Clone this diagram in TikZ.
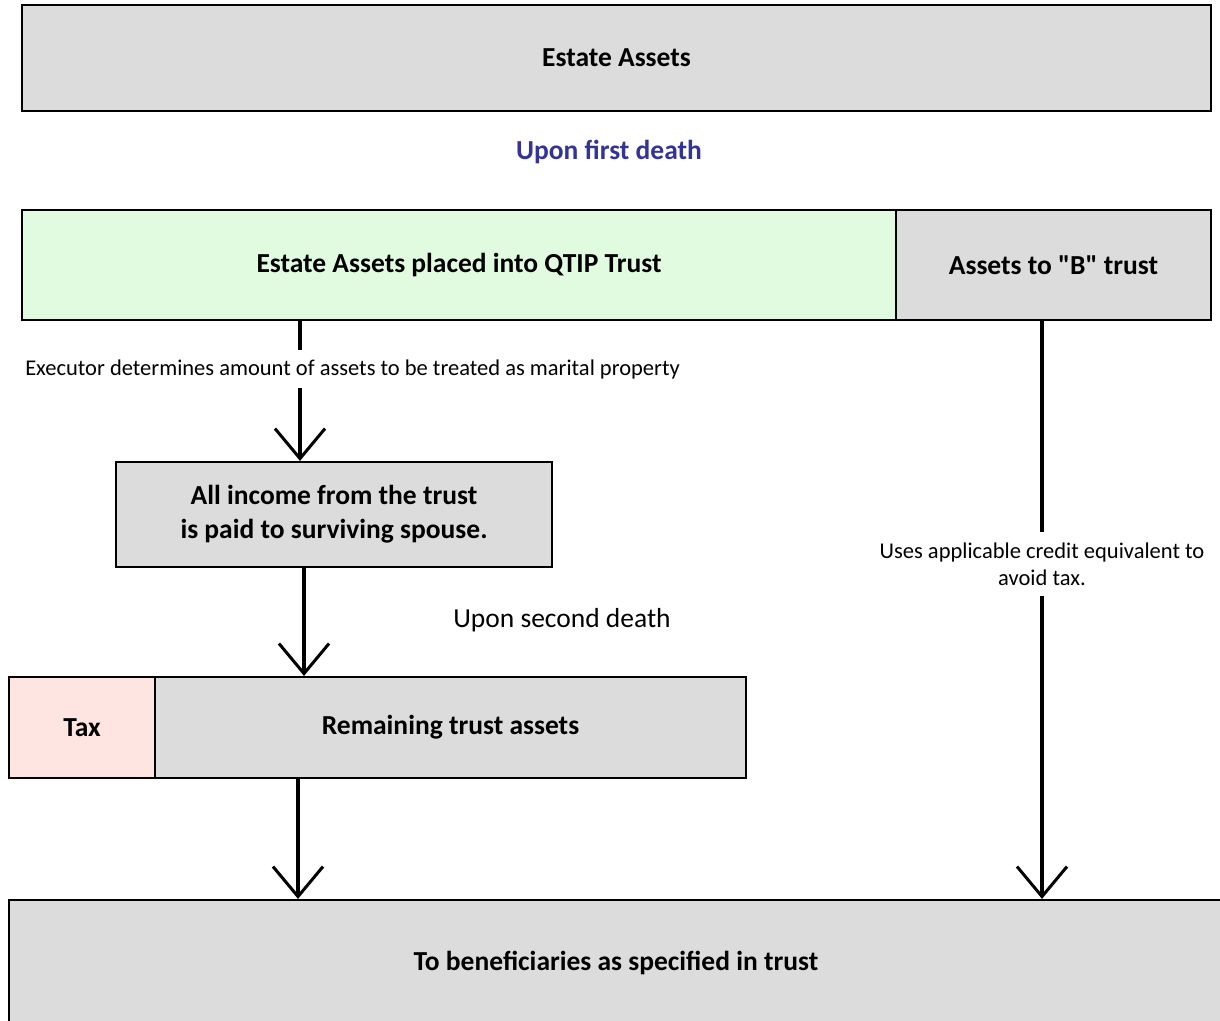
\documentclass[tikz,border=0pt]{standalone}
\usepackage{fontspec}
\setmainfont{Carlito}[Ligatures=TeXOff]
\usetikzlibrary{arrows.meta}
\definecolor{boxgray}{HTML}{DCDCDC}
\definecolor{qtipgreen}{HTML}{E1FBE1}
\definecolor{taxpink}{HTML}{FFE5E1}
\definecolor{headblue}{HTML}{333399}
\begin{document}
\begin{tikzpicture}[x=1pt,y=-1pt,
  box/.style={draw=black, line width=2.2pt, fill=boxgray, inner sep=0pt,
    font=\bfseries\fontsize{27.5}{34}\selectfont, align=center},
  flow/.style={line width=4pt, -{Straight Barb[length=30pt,width=50pt,line width=3pt]}},
  plainline/.style={line width=4pt},
  note/.style={font=\fontsize{22.5}{27}\selectfont, align=center, inner sep=0pt}]
\useasboundingbox (0,0) rectangle (1220,1020);
\clip (0,0) rectangle (1220,1020);

% boxes
\node[box, minimum width=1189pt, minimum height=106pt] (estate) at (616.5,58) {Estate Assets};
\node[font=\bfseries\fontsize{27.5}{32}\selectfont, text=headblue] (first) at (609,152) {Upon first death};
\node[box, fill=qtipgreen, minimum width=874pt, minimum height=110pt] (qtip) at (459,265) {Estate Assets placed into QTIP Trust};
\node[box, minimum width=315pt, minimum height=110pt] (btrust) at (1053.5,265) {Assets to "B" trust};
\node[box, minimum width=436pt, minimum height=105pt] (income) at (334,514.5) {All income from the trust\\is paid to surviving spouse.};
\node[box, fill=taxpink, minimum width=146pt, minimum height=101pt] (tax) at (82,727.5) {Tax};
\node[box, minimum width=591pt, minimum height=101pt] (remain) at (450.5,727.5) {Remaining trust assets};
\node[box, minimum width=1214pt, minimum height=126pt] (benef) at (616,963) {To beneficiaries as specified in trust};

% labels
\node[note, minimum height=38pt] (exec) at (352.5,369) {Executor determines amount of assets to be treated as marital property};
\node[note, font=\fontsize{27.5}{32}\selectfont] (second) at (562,620) {Upon second death};
\node[note, minimum height=63pt] (credit) at (1042,564) {Uses applicable credit equivalent to\\avoid tax.};

% connector columns
\coordinate (colA) at (300,0);
\coordinate (colB) at (304,0);
\coordinate (colC) at (298,0);
\coordinate (colD) at (1042,0);

% connectors
\draw[plainline] (qtip.south -| colA) -- (exec.north -| colA);
\draw[flow] (exec.south -| colA) -- (income.north -| colA);
\draw[flow] (income.south -| colB) -- (remain.north -| colB);
\draw[flow] (remain.south -| colC) -- (benef.north -| colC);
\draw[plainline] (btrust.south -| colD) -- (credit.north -| colD);
\draw[flow] (credit.south -| colD) -- (benef.north -| colD);
\end{tikzpicture}
\end{document}
